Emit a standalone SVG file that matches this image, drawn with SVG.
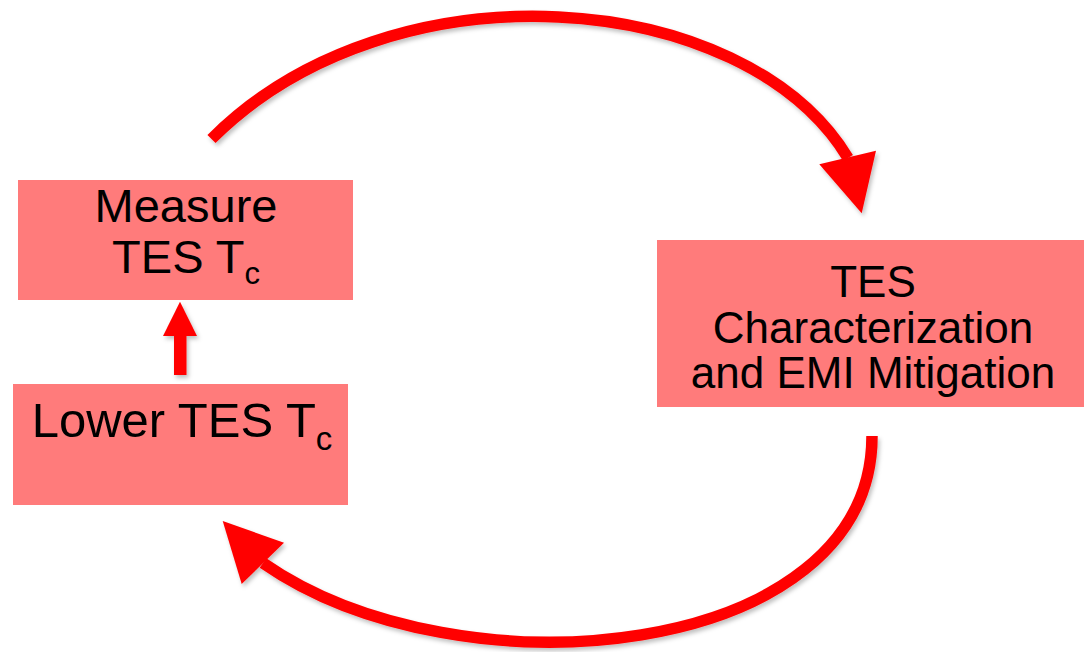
<svg xmlns="http://www.w3.org/2000/svg" width="1085" height="652" viewBox="0 0 1085 652">
<defs>
<style>
.box{fill:#FF7B7B;}
.lbl{font-family:"Liberation Sans",Arial,sans-serif;fill:#000;text-anchor:middle;}
.arc{fill:none;stroke:#FF0000;stroke-width:11.5;stroke-linecap:butt;}
.head{fill:#FF0000;}
</style>
<filter id="sh" x="-10%" y="-10%" width="130%" height="130%">
<feDropShadow dx="2" dy="3" stdDeviation="2" flood-color="#000" flood-opacity="0.25"/>
</filter>
</defs>
<rect width="1085" height="652" fill="#fff"/>
<g id="connectors" filter="url(#sh)">
<path class="arc" d="M211.5,139 C391.5,-41 744.4,-12.8 848,158"/>
<polygon class="head" points="819.3,164.3 876,150.7 861.7,213.3"/>
<path class="arc" d="M872,436 C872,660 460,700 263,563"/>
<polygon class="head" points="284,542.7 241.7,584 222.7,521"/>
<rect class="head" x="174" y="334" width="12.5" height="41"/>
<polygon class="head" points="180,301.7 197,336 163,336"/>
</g>
<g id="measure">
<rect class="box" x="18" y="180" width="335" height="120"/>
<text class="lbl" x="186" y="222" font-size="47">Measure</text>
<text class="lbl" x="186" y="273" font-size="47">TES T<tspan font-size="31" dy="11">c</tspan></text>
</g>
<g id="lower">
<rect class="box" x="13" y="384" width="335" height="121"/>
<text class="lbl" x="182" y="437" font-size="49">Lower TES T<tspan font-size="33" dy="13">c</tspan></text>
</g>
<g id="characterization">
<rect class="box" x="657" y="240" width="427" height="167"/>
<text class="lbl" x="873" y="297" font-size="44">TES</text>
<text class="lbl" x="873" y="343" font-size="44">Characterization</text>
<text class="lbl" x="873" y="388" font-size="44">and EMI Mitigation</text>
</g>
</svg>
